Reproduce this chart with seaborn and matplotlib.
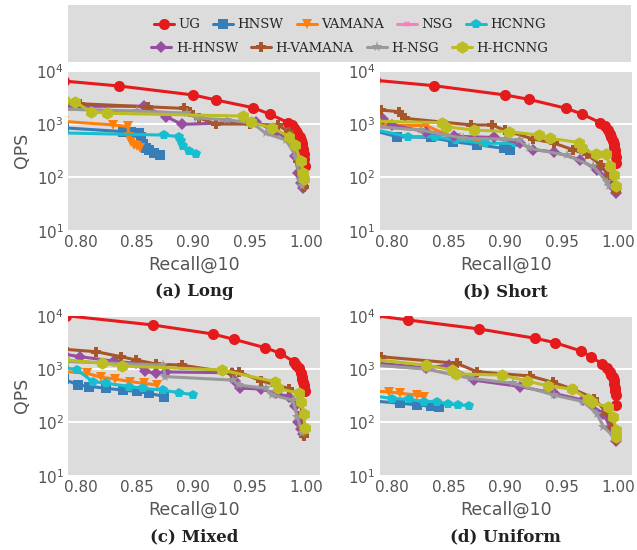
import numpy as np
import pandas as pd
import seaborn as sns
import matplotlib
matplotlib.use("Agg")
import matplotlib.pyplot as plt
from matplotlib.lines import Line2D
from matplotlib.patches import Rectangle
from matplotlib.ticker import NullLocator

# ---- data (recall@10, QPS) ----
methods = ["UG", "HNSW", "VAMANA", "NSG", "HCNNG", "H-HNSW", "H-VAMANA", "H-NSG", "H-HCNNG"]
titles = ["(a) Long", "(b) Short", "(c) Mixed", "(d) Uniform"]

# (a) Long
a_ug_x = [0.785, 0.834, 0.900, 0.920, 0.953, 0.968, 0.984, 0.987, 0.989, 0.991, 0.992, 0.993, 0.994, 0.995, 0.996, 0.9965, 0.997, 0.9975, 0.998, 0.9985]
a_ug_y = [6400, 5170, 3500, 2820, 2020, 1520, 1060, 950, 850, 740, 680, 620, 560, 500, 440, 400, 340, 280, 220, 160]
a_hnsw_x = [0.785, 0.838, 0.845, 0.852, 0.854, 0.855, 0.858, 0.861, 0.865, 0.870]
a_hnsw_y = [850, 720, 700, 680, 560, 420, 360, 320, 290, 265]
a_vamana_x = [0.785, 0.829, 0.842, 0.843, 0.845, 0.847, 0.850, 0.853]
a_vamana_y = [1120, 960, 900, 580, 460, 400, 380, 360]
a_nsg_x = [0.785, 0.85, 0.894]
a_nsg_y = [1900, 1750, 1590]
a_hcnng_x = [0.785, 0.874, 0.887, 0.889, 0.891, 0.896, 0.902]
a_hcnng_y = [680, 620, 580, 480, 380, 310, 280]
a_hhnsw_x = [0.785, 0.856, 0.876, 0.890, 0.955, 0.973, 0.985, 0.990, 0.993, 0.995, 0.997]
a_hhnsw_y = [2150, 2150, 1370, 985, 1100, 720, 500, 250, 120, 80, 62]
a_hvamana_x = [0.785, 0.800, 0.860, 0.892, 0.897, 0.905, 0.920, 0.950, 0.975, 0.985, 0.990, 0.993, 0.995, 0.997, 0.998]
a_hvamana_y = [2550, 2400, 2100, 1960, 1700, 1300, 1000, 1000, 950, 700, 400, 200, 120, 80, 67]
a_hnsg_x = [0.785, 0.850, 0.894, 0.903, 0.930, 0.9525, 0.964, 0.982, 0.991, 0.994, 0.996]
a_hnsg_y = [1900, 1750, 1590, 1300, 1200, 1030, 670, 500, 245, 90, 70]
a_hhcnng_x = [0.785, 0.795, 0.809, 0.8235, 0.944, 0.951, 0.970, 0.985, 0.990, 0.995, 0.997, 0.998]
a_hhcnng_y = [2800, 2620, 1700, 1590, 1410, 1070, 850, 575, 400, 200, 120, 95]

# (b) Short
b_ug_x = [0.785, 0.837, 0.900, 0.921, 0.954, 0.968, 0.984, 0.988, 0.991, 0.993, 0.994, 0.995, 0.996, 0.9965, 0.997, 0.9975, 0.9978, 0.9985]
b_ug_y = [6600, 5230, 3500, 2900, 1970, 1540, 1060, 900, 770, 650, 560, 490, 420, 370, 320, 280, 240, 185]
b_hnsw_x = [0.785, 0.804, 0.834, 0.854, 0.875, 0.8985, 0.904]
b_hnsw_y = [740, 580, 560, 466, 410, 350, 330]
b_vamana_x = [0.785, 0.830, 0.856, 0.878]
b_vamana_y = [980, 930, 540, 470]
b_nsg_x = [0.785, 0.825, 0.863]
b_nsg_y = [900, 770, 540]
b_hcnng_x = [0.785, 0.814, 0.838, 0.856, 0.882, 0.909]
b_hcnng_y = [780, 580, 580, 500, 435, 435]
b_hhnsw_x = [0.785, 0.792, 0.800, 0.830, 0.855, 0.890, 0.913, 0.925, 0.943, 0.966, 0.981, 0.990, 0.995, 0.998]
b_hhnsw_y = [1400, 1250, 950, 720, 590, 560, 440, 330, 300, 215, 140, 100, 65, 50]
b_hvamana_x = [0.785, 0.790, 0.806, 0.811, 0.870, 0.888, 0.900, 0.925, 0.943, 0.960, 0.972, 0.985, 0.992, 0.996, 0.998]
b_hvamana_y = [1900, 1830, 1700, 1280, 960, 960, 760, 520, 440, 330, 270, 170, 100, 70, 55]
b_hnsg_x = [0.785, 0.825, 0.863, 0.900, 0.912, 0.921, 0.9545, 0.978, 0.990, 0.992]
b_hnsg_y = [900, 770, 540, 520, 500, 350, 260, 160, 83, 70]
b_hhcnng_x = [0.785, 0.844, 0.848, 0.872, 0.903, 0.930, 0.940, 0.965, 0.968, 0.980, 0.989, 0.993, 0.996, 0.998]
b_hhcnng_y = [1130, 1060, 890, 770, 720, 620, 540, 450, 350, 270, 280, 160, 110, 70]

# (c) Mixed
c_ug_x = [0.787, 0.864, 0.917, 0.936, 0.9635, 0.977, 0.989, 0.991, 0.9935, 0.995, 0.996, 0.9965, 0.997, 0.9975, 0.998, 0.9985]
c_ug_y = [10000, 6700, 4540, 3600, 2510, 1970, 1370, 1200, 1030, 850, 720, 640, 560, 500, 450, 380]
c_hnsw_x = [0.785, 0.798, 0.808, 0.823, 0.838, 0.850, 0.861, 0.874]
c_hnsw_y = [650, 500, 470, 435, 400, 380, 350, 305]
c_vamana_x = [0.785, 0.806, 0.818, 0.831, 0.844, 0.856, 0.8675]
c_vamana_y = [900, 830, 700, 650, 580, 540, 500]
c_nsg_x = [0.785, 0.873]
c_nsg_y = [1400, 1180]
c_hcnng_x = [0.785, 0.797, 0.811, 0.823, 0.843, 0.855, 0.873, 0.887, 0.900]
c_hcnng_y = [1080, 960, 580, 540, 470, 435, 400, 360, 330]
c_hhnsw_x = [0.785, 0.800, 0.830, 0.849, 0.857, 0.867, 0.876, 0.934, 0.937, 0.941, 0.960, 0.973, 0.985, 0.990, 0.993, 0.995, 0.997]
c_hhnsw_y = [1900, 1700, 1400, 1280, 900, 830, 880, 850, 600, 440, 420, 350, 300, 200, 100, 75, 60]
c_hvamana_x = [0.785, 0.814, 0.836, 0.849, 0.867, 0.890, 0.934, 0.940, 0.960, 0.973, 0.985, 0.994, 0.996, 0.997, 0.998]
c_hvamana_y = [2350, 2110, 1700, 1480, 1240, 1180, 850, 880, 600, 500, 430, 330, 150, 80, 56]
c_hnsg_x = [0.785, 0.873, 0.875, 0.935, 0.940, 0.964, 0.970, 0.988, 0.992, 0.996]
c_hnsg_y = [1400, 1180, 720, 620, 500, 435, 325, 260, 128, 62]
c_hhcnng_x = [0.785, 0.819, 0.837, 0.925, 0.9725, 0.9746, 0.9937, 0.995, 0.998, 0.9985]
c_hhcnng_y = [1500, 1280, 1140, 960, 575, 435, 350, 245, 146, 78]

# (d) Uniform
d_ug_x = [0.785, 0.814, 0.877, 0.9265, 0.944, 0.967, 0.976, 0.986, 0.990, 0.9927, 0.994, 0.995, 0.996, 0.9965, 0.997, 0.9975, 0.998, 0.9985]
d_ug_y = [10000, 8300, 5630, 3770, 3120, 2180, 1700, 1240, 1050, 890, 780, 700, 620, 530, 450, 380, 325, 213]
d_hnsw_x = [0.785, 0.807, 0.822, 0.834, 0.841]
d_hnsw_y = [250, 228, 213, 200, 190]
d_vamana_x = [0.785, 0.797, 0.807, 0.822, 0.828]
d_vamana_y = [380, 375, 350, 325, 305]
d_nsg_x = [0.785, 0.830, 0.869]
d_nsg_y = [1180, 1000, 670]
d_hcnng_x = [0.785, 0.800, 0.815, 0.828, 0.840, 0.849, 0.858, 0.868]
d_hcnng_y = [310, 280, 270, 245, 245, 220, 213, 205]
d_hhnsw_x = [0.785, 0.830, 0.850, 0.872, 0.913, 0.943, 0.969, 0.987, 0.993, 0.998]
d_hhnsw_y = [1300, 1050, 1180, 620, 470, 350, 260, 146, 80, 44]
d_hvamana_x = [0.785, 0.790, 0.857, 0.875, 0.922, 0.9426, 0.960, 0.979, 0.990, 0.995, 0.998]
d_hvamana_y = [1600, 1700, 1280, 890, 740, 560, 420, 280, 150, 80, 47]
d_hnsg_x = [0.785, 0.830, 0.869, 0.907, 0.943, 0.969, 0.981, 0.987, 0.996]
d_hnsg_y = [1180, 1000, 670, 540, 325, 245, 146, 83, 54]
d_hhcnng_x = [0.785, 0.830, 0.853, 0.856, 0.897, 0.919, 0.938, 0.959, 0.973, 0.9765, 0.991, 0.9956, 0.998, 0.9985]
d_hhcnng_y = [1500, 1180, 960, 810, 770, 600, 480, 420, 280, 245, 190, 128, 72, 54]

panels = [
    [(a_ug_x, a_ug_y), (a_hnsw_x, a_hnsw_y), (a_vamana_x, a_vamana_y), (a_nsg_x, a_nsg_y), (a_hcnng_x, a_hcnng_y),
     (a_hhnsw_x, a_hhnsw_y), (a_hvamana_x, a_hvamana_y), (a_hnsg_x, a_hnsg_y), (a_hhcnng_x, a_hhcnng_y)],
    [(b_ug_x, b_ug_y), (b_hnsw_x, b_hnsw_y), (b_vamana_x, b_vamana_y), (b_nsg_x, b_nsg_y), (b_hcnng_x, b_hcnng_y),
     (b_hhnsw_x, b_hhnsw_y), (b_hvamana_x, b_hvamana_y), (b_hnsg_x, b_hnsg_y), (b_hhcnng_x, b_hhcnng_y)],
    [(c_ug_x, c_ug_y), (c_hnsw_x, c_hnsw_y), (c_vamana_x, c_vamana_y), (c_nsg_x, c_nsg_y), (c_hcnng_x, c_hcnng_y),
     (c_hhnsw_x, c_hhnsw_y), (c_hvamana_x, c_hvamana_y), (c_hnsg_x, c_hnsg_y), (c_hhcnng_x, c_hhcnng_y)],
    [(d_ug_x, d_ug_y), (d_hnsw_x, d_hnsw_y), (d_vamana_x, d_vamana_y), (d_nsg_x, d_nsg_y), (d_hcnng_x, d_hcnng_y),
     (d_hhnsw_x, d_hhnsw_y), (d_hvamana_x, d_hvamana_y), (d_hnsg_x, d_hnsg_y), (d_hhcnng_x, d_hhcnng_y)],
]

colors = ["#e41a1c", "#377eb8", "#ff7f0e", "#f781bf", "#17becf", "#984ea3", "#a65628", "#999999", "#bcbd22"]
markers = ["o", "s", "v", "X", "p", "D", "P", "*", "h"]
msizes = [8, 6.5, 7.5, 4, 7, 6.5, 7, 8, 9]
draw_order = [1, 2, 3, 4, 5, 6, 7, 8, 0]  # UG drawn on top

bg = "#dcdcdc"
sns.set_theme(style="darkgrid", rc={"axes.facecolor": bg, "grid.color": "white", "grid.linewidth": 1.4})
plt.rcParams["font.family"] = ["DejaVu Sans"]

fig, axes = plt.subplots(2, 2, figsize=(6.37, 5.5), dpi=100)
fig.subplots_adjust(left=0.1068, right=0.9917, top=0.8715, bottom=0.1351, wspace=0.238, hspace=0.531)

for k, ax in enumerate(axes.flat):
    for i in draw_order:
        xs, ys = panels[k][i]
        sns.lineplot(x=xs, y=ys, ax=ax, color=colors[i], marker=markers[i], markersize=msizes[i],
                     markeredgewidth=0, linewidth=2.2, sort=False, estimator=None, zorder=3 + i)
    ax.set_yscale("log")
    ax.set_ylim(10, 10000)
    ax.set_xlim(0.789, 1.012)
    ax.set_xticks([0.80, 0.85, 0.90, 0.95, 1.00])
    ax.set_yticks([10, 100, 1000, 10000])
    ax.yaxis.set_minor_locator(NullLocator())
    ax.grid(axis="x", visible=False)
    ax.tick_params(axis="both", colors="#555555", labelsize=11, length=0, pad=3)
    ax.set_xlabel("Recall@10", fontsize=12.5, color="#555555", labelpad=4)
    if k % 2 == 0:
        ax.set_ylabel("QPS", fontsize=12.5, color="#555555", labelpad=4)
    for s in ax.spines.values():
        s.set_visible(False)
    ax.text(0.5, -0.38, titles[k], transform=ax.transAxes, ha="center", va="center",
            family="DejaVu Serif", fontweight="bold", fontsize=12, color="#222222")

# legend box
fig.patches.append(Rectangle((68 / 637, 1 - 62 / 550), (631 - 68) / 637, (62 - 5) / 550,
                             transform=fig.transFigure, facecolor=bg, edgecolor="none", zorder=0))
handles = [Line2D([], [], color=colors[i], marker=markers[i], markersize=msizes[i],
                  markeredgewidth=0, linewidth=2.2, label=methods[i]) for i in range(9)]
prop = {"family": "DejaVu Serif", "size": 9.5}
leg1 = fig.legend(handles=handles[:5], loc="center", bbox_to_anchor=(350 / 637, 1 - 25 / 550), ncol=5,
                  frameon=False, prop=prop, handlelength=1.5, handletextpad=0.35, columnspacing=1.0)
leg2 = fig.legend(handles=handles[5:], loc="center", bbox_to_anchor=(350 / 637, 1 - 48 / 550), ncol=4,
                  frameon=False, prop=prop, handlelength=1.5, handletextpad=0.35, columnspacing=1.0)

fig.savefig("out.png", dpi=100)
